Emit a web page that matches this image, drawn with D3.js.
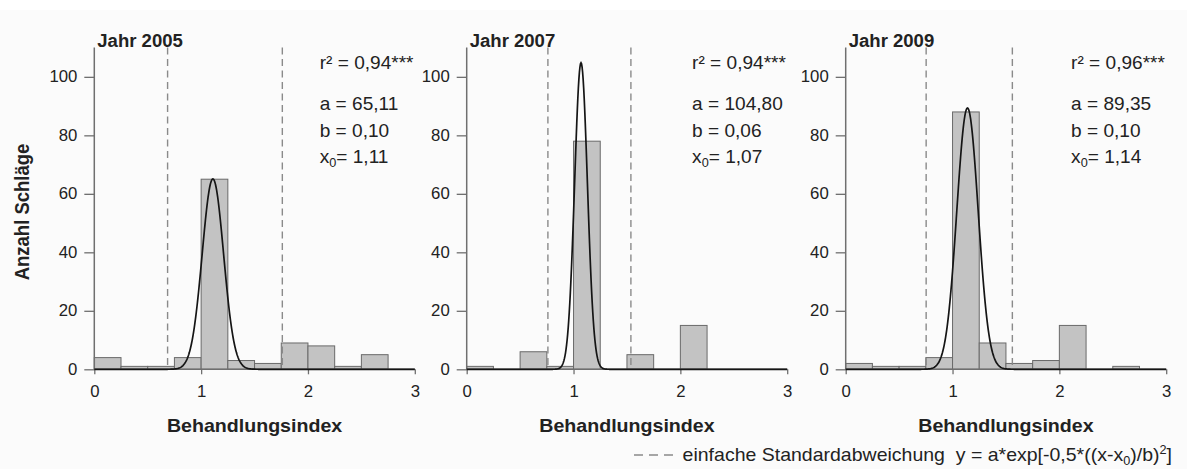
<!DOCTYPE html>
<html>
<head>
<meta charset="utf-8">
<script src="https://cdn.jsdelivr.net/npm/d3@7"></script>
<style>
  html, body { margin: 0; padding: 0; background: #ffffff; }
  svg { display: block; }
  text { font-family: "Liberation Sans", Arial, Helvetica, sans-serif; fill: #222222; }
</style>
</head>
<body>
<svg id="chart" width="1187" height="469"></svg>
<script>
// Histogram bins (lower edges) of the treatment index, bin width 0.25
const binStarts = [0, 0.25, 0.5, 0.75, 1, 1.25, 1.5, 1.75, 2, 2.25, 2.5, 2.75];
const binWidth = 0.25;

// Number of stands per bin and year
const counts2005 = [4, 1, 1, 4, 65, 3, 2, 9, 8, 1, 5, 0];
const counts2007 = [1, 0, 6, 1, 78, 0, 5, 0, 15, 0, 0, 0];
const counts2009 = [2, 1, 1, 4, 88, 9, 2, 3, 15, 0, 1, 0];

// Gauss fit parameters y = a*exp[-0.5*((x-x0)/b)^2]
const years = ["2005", "2007", "2009"];
const fitA = [65.11, 104.80, 89.35];
const fitB = [0.10, 0.06, 0.10];
const fitX0 = [1.11, 1.07, 1.14];
const fitR2 = ["0,94", "0,94", "0,96"];
const labelA = ["65,11", "104,80", "89,35"];
const labelB = ["0,10", "0,06", "0,10"];
const labelX0 = ["1,11", "1,07", "1,14"];

// Mean ± one standard deviation (dashed lines)
const sdLow = [0.686, 0.76, 0.753];
const sdHigh = [1.76, 1.537, 1.56];

const xTicks = [0, 1, 2, 3];
const yTicks = [0, 20, 40, 60, 80, 100];
const xDomain = [0, 3];
const yDomain = [0, 110];

const counts = [counts2005, counts2007, counts2009];

// ---- layout ----
const svg = d3.select("#chart");
const SX = 1.06;              // slight horizontal glyph stretch
const panelLeft = [94.3, 466.7, 845.7];
const panelWidth = 320.5;
const baseY = 369.3;
const topY = 47.6;
const axisColor = "#6f6f6f";

svg.append("rect").attr("x", 0).attr("y", 10).attr("width", 1187).attr("height", 459)
  .attr("fill", "#fbfbfb");

function stext(parent, x, y, str, size, opts = {}) {
  const t = parent.append("text")
    .attr("transform", `translate(${x},${y}) scale(${SX},1)`)
    .attr("font-size", size)
    .attr("font-weight", opts.weight || "normal")
    .attr("text-anchor", opts.anchor || "start");
  if (str !== null) t.text(str);
  return t;
}

years.forEach((yr, i) => {
  const x = d3.scaleLinear().domain(xDomain).range([panelLeft[i], panelLeft[i] + panelWidth]);
  const y = d3.scaleLinear().domain(yDomain).range([baseY, topY]);
  const g = svg.append("g");

  // bars
  g.selectAll("rect.bar")
    .data(binStarts.map((s, k) => ({ s, v: counts[i][k] })).filter(d => d.v > 0))
    .join("rect")
    .attr("class", "bar")
    .attr("x", d => x(d.s))
    .attr("width", d => x(d.s + binWidth) - x(d.s))
    .attr("y", d => y(d.v))
    .attr("height", d => y(0) - y(d.v))
    .attr("fill", "#c3c3c3")
    .attr("stroke", "#6a6a6a")
    .attr("stroke-width", 1);

  // standard deviation lines
  [sdLow[i], sdHigh[i]].forEach(v => {
    g.append("line")
      .attr("x1", x(v)).attr("x2", x(v))
      .attr("y1", y(110)).attr("y2", y(0))
      .attr("stroke", "#8a8a8a")
      .attr("stroke-width", 1.4)
      .attr("stroke-dasharray", "7,4.5");
  });

  // axes
  const yAxis = d3.axisLeft(y).tickValues(yTicks).tickSize(10).tickPadding(7).tickFormat(d3.format("d"));
  const ya = g.append("g").attr("transform", `translate(${x(0)},0)`).call(yAxis);
  const xAxis = d3.axisBottom(x).tickValues(xTicks).tickSize(5).tickPadding(11).tickFormat(d3.format("d"));
  const xa = g.append("g").attr("transform", `translate(0,${y(0)})`).call(xAxis);
  [ya, xa].forEach(a => {
    a.select(".domain").attr("stroke", axisColor).attr("stroke-width", 1.5);
    a.selectAll(".tick line").attr("stroke", axisColor).attr("stroke-width", 1.3);
    a.selectAll(".tick text")
      .attr("font-size", 15.8)
      .attr("fill", "#262626")
      .attr("font-family", "Liberation Sans, Arial, sans-serif");
  });
  // widen tick labels the same way as other text
  ya.selectAll(".tick text").each(function () {
    const t = d3.select(this);
    const tx = +t.attr("x");
    t.attr("x", null).attr("transform", `translate(${tx},0) scale(${SX},1)`);
  });
  xa.selectAll(".tick text").attr("transform", `scale(${SX},1)`);
  ya.select(".domain").attr("d", `M0,${y(110)}V${y(0)}`);
  xa.select(".domain").attr("d", `M${x(0)},0H${x(3)}`);

  // gauss curve
  const curve = d3.range(0, 3.0001, 0.005).map(v => [v, fitA[i] * Math.exp(-0.5 * Math.pow((v - fitX0[i]) / fitB[i], 2))]);
  g.append("path")
    .datum(curve)
    .attr("fill", "none")
    .attr("stroke", "#151515")
    .attr("stroke-width", 1.7)
    .attr("d", d3.line().x(d => x(d[0])).y(d => y(d[1])));

  // year title
  stext(g, x(0) + 3, 47, "Jahr " + yr, 17.5, { weight: "bold" });

  // fit statistics
  const lx = x(2.11);
  stext(g, lx, 69, "r² = " + fitR2[i] + "***", 18);
  stext(g, lx, 110, "a = " + labelA[i], 18);
  stext(g, lx, 137, "b = " + labelB[i], 18);
  const tx0 = stext(g, lx, 163, null, 18);
  tx0.append("tspan").text("x");
  tx0.append("tspan").attr("font-size", 12).attr("dy", 4).text("0");
  tx0.append("tspan").attr("dy", -4).text("= " + labelX0[i]);

  // x axis title
  stext(g, (x(0) + x(3)) / 2, 432, "Behandlungsindex", 18.5, { weight: "bold", anchor: "middle" });
});

// y axis title
svg.append("text")
  .attr("transform", `translate(29,212) scale(${SX},1) rotate(-90)`)
  .attr("font-size", 18.5)
  .attr("font-weight", "bold")
  .attr("text-anchor", "middle")
  .text("Anzahl Schläge");

// legend
const lg = svg.append("g");
lg.append("line")
  .attr("x1", 634).attr("x2", 673).attr("y1", 455).attr("y2", 455)
  .attr("stroke", "#8a8a8a").attr("stroke-width", 1.4).attr("stroke-dasharray", "9,6");
const lt = stext(lg, 1172, 461, null, 18.4, { anchor: "end" });
lt.style("white-space", "pre");
lt.append("tspan").text("einfache Standardabweichung  y = a*exp[-0,5*((x-x");
lt.append("tspan").attr("font-size", 12).attr("dy", 4).text("0");
lt.append("tspan").attr("dy", -4).text(")/b)");
lt.append("tspan").attr("font-size", 12).attr("dy", -7).text("2");
lt.append("tspan").attr("dy", 7).text("]");
</script>
</body>
</html>
